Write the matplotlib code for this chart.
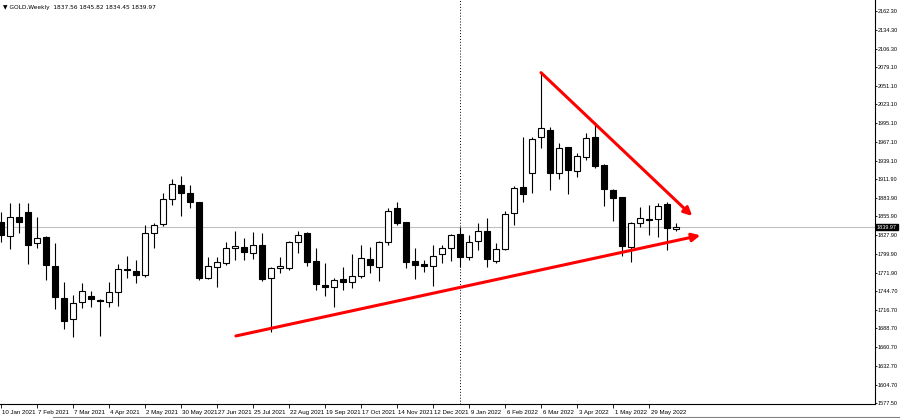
import matplotlib
matplotlib.use("Agg")
import matplotlib.pyplot as plt
import matplotlib.transforms as mtransforms
from matplotlib.lines import Line2D

plt.rcParams['font.family'] = ['Liberation Sans Narrow', 'Liberation Sans', 'DejaVu Sans']

## weekly OHLC, first bar = week of 10 Jan 2021
opens = [1848.0, 1827.1, 1854.5, 1862.9, 1815.7, 1825.6, 1782.3, 1733.7, 1702.4, 1727.7,
         1737.6, 1731.2, 1728.6, 1743.5, 1777.4, 1774.9, 1768.5, 1830.7, 1844.5, 1881.4,
         1902.7, 1891.2, 1876.9, 1763.5, 1780.8, 1786.8, 1808.3, 1810.7, 1801.7, 1813.7,
         1763.5, 1778.5, 1778.5, 1818.1, 1830.7, 1789.3, 1753.5, 1751.0, 1762.0, 1757.6,
         1767.0, 1792.3, 1780.8, 1817.2, 1868.0, 1847.1, 1789.3, 1784.4, 1782.3, 1799.8,
         1808.3, 1829.6, 1794.9, 1819.2, 1834.5, 1789.3, 1806.8, 1860.5, 1900.2, 1920.2,
         1974.8, 1984.8, 1921.1, 1959.0, 1924.0, 1944.9, 1973.9, 1932.6, 1895.3, 1884.4,
         1810.7, 1845.6, 1852.0, 1851.6, 1874.4, 1837.56]
highs = [1862.9, 1875.4, 1875.4, 1875.4, 1854.5, 1827.0, 1815.7, 1758.5, 1738.6, 1756.1,
         1745.0, 1732.5, 1757.6, 1784.4, 1797.3, 1790.8, 1843.0, 1845.6, 1890.3, 1911.7,
         1916.1, 1902.7, 1878.0, 1794.9, 1794.9, 1818.1, 1834.1, 1824.1, 1833.1, 1831.6,
         1780.5, 1794.9, 1819.2, 1834.1, 1832.0, 1808.3, 1786.8, 1763.5, 1780.8, 1799.8,
         1813.2, 1810.7, 1819.0, 1868.0, 1876.9, 1848.0, 1808.3, 1790.8, 1813.2, 1813.2,
         1830.0, 1840.5, 1828.1, 1846.5, 1853.0, 1815.7, 1863.9, 1900.8, 1973.9, 1973.9,
         2070.4, 1989.7, 1964.9, 1960.0, 1950.0, 1980.7, 1997.2, 1934.0, 1896.0, 1885.5,
         1848.0, 1869.5, 1872.9, 1875.4, 1877.8, 1845.82]
lows = [1818.1, 1806.8, 1831.6, 1784.9, 1808.3, 1761.0, 1717.3, 1687.5, 1676.4, 1718.8,
        1721.2, 1677.9, 1721.2, 1722.7, 1763.5, 1756.1, 1765.9, 1808.3, 1841.5, 1872.9,
        1856.5, 1868.9, 1761.0, 1762.0, 1750.1, 1783.4, 1790.8, 1790.8, 1792.3, 1760.0,
        1683.0, 1771.0, 1775.9, 1800.8, 1781.9, 1746.1, 1737.1, 1721.2, 1746.1, 1749.5,
        1763.5, 1771.0, 1759.5, 1813.2, 1843.0, 1778.5, 1762.0, 1773.4, 1752.5, 1785.9,
        1789.3, 1780.8, 1790.8, 1805.8, 1779.9, 1785.9, 1805.8, 1843.0, 1877.8, 1890.3,
        1957.5, 1895.3, 1911.2, 1889.3, 1915.1, 1940.0, 1927.6, 1871.4, 1849.5, 1796.8,
        1788.3, 1840.5, 1828.1, 1824.7, 1805.8, 1834.45]
closes = [1828.1, 1854.5, 1847.1, 1813.2, 1823.2, 1783.4, 1735.6, 1700.3, 1726.2, 1745.0,
          1732.2, 1729.2, 1743.5, 1777.0, 1776.4, 1768.9, 1831.6, 1843.0, 1881.4, 1903.8,
          1890.3, 1876.9, 1763.5, 1781.9, 1787.4, 1808.3, 1812.2, 1802.3, 1813.7, 1762.0,
          1779.3, 1781.4, 1818.1, 1828.1, 1787.4, 1754.6, 1751.0, 1761.0, 1757.6, 1767.4,
          1793.4, 1783.4, 1818.1, 1864.4, 1845.6, 1787.4, 1782.9, 1782.3, 1797.3, 1808.7,
          1828.1, 1795.8, 1818.1, 1834.5, 1792.3, 1806.8, 1859.0, 1897.8, 1889.3, 1970.9,
          1988.2, 1921.1, 1957.5, 1925.1, 1946.4, 1972.4, 1931.1, 1896.3, 1882.9, 1811.7,
          1845.6, 1853.0, 1850.5, 1871.4, 1839.0, 1839.97]

price_ticks = [2162.30, 2134.30, 2106.30, 2079.10, 2051.10, 2023.10, 1995.10, 1967.10,
               1939.10, 1911.90, 1883.90, 1855.90, 1827.90, 1799.90, 1771.90, 1744.70,
               1716.70, 1688.70, 1660.70, 1632.70, 1604.70, 1577.50]
date_pos = [0, 4, 8, 12, 16, 20, 24, 28, 32, 36, 40, 44, 48, 52, 56, 60, 64, 68, 72]
date_labels = ["10 Jan 2021", "7 Feb 2021", "7 Mar 2021", "4 Apr 2021", "2 May 2021",
               "30 May 2021", "27 Jun 2021", "25 Jul 2021", "22 Aug 2021", "19 Sep 2021",
               "17 Oct 2021", "14 Nov 2021", "12 Dec 2021", "9 Jan 2022", "6 Feb 2022",
               "6 Mar 2022", "3 Apr 2022", "1 May 2022", "29 May 2022"]
year_sep = 51
last_price = 1839.97

# trend lines drawn by hand on the chart (bar index, price)
upper_line = [(60.0, 2070.3), (76.8, 1856.5)]
lower_line = [(26.1, 1677.5), (77.7, 1827.6)]

fs = 4.4
fs_y = 4.0

fig = plt.figure(figsize=(9, 4.18), dpi=100)
ax = fig.add_axes([0, 14 / 418, 875 / 900, 1 - 14 / 418])

n = len(opens)
xs = list(range(n))
ax.vlines(xs, lows, highs, color="black", linewidth=0.8, zorder=2)
for i in xs:
    o, c = opens[i], closes[i]
    bottom = min(o, c)
    h = max(abs(c - o), 0.9)
    fc = "white" if c >= o else "black"
    ax.bar(i, h, bottom=bottom, width=0.62, facecolor=fc, edgecolor="black",
           linewidth=0.8, zorder=3)

ax.axhline(last_price, color="#c0c0c0", linewidth=0.8, zorder=1)
ax.axvline(year_sep, color="black", linestyle=(0, (1, 2)), linewidth=0.7, zorder=1)

for line in (upper_line, lower_line):
    ax.annotate("", xy=line[1], xytext=line[0],
                arrowprops=dict(arrowstyle="-|>", color="#ff0000", lw=2.2,
                                mutation_scale=12, shrinkA=0, shrinkB=0),
                zorder=5)

ax.set_xlim(-0.11, 97.11)
ax.set_ylim(1576.0, 2178.7)

for s in ("top", "left"):
    ax.spines[s].set_visible(False)
ax.spines["right"].set_linewidth(0.8)
ax.spines["bottom"].set_linewidth(0.8)

ax.yaxis.tick_right()
ax.set_yticks(price_ticks)
ax.set_yticklabels([f"{p:.2f}" for p in price_ticks])
ax.tick_params(axis="y", direction="out", length=1.5, width=0.6, pad=0.6,
               labelsize=fs_y, colors="black")

ax.set_xticks(date_pos)
ax.set_xticklabels(date_labels)
ax.tick_params(axis="x", direction="out", length=3, width=0.6, pad=1.5,
               labelsize=fs)
offset = mtransforms.ScaledTranslation(1.5 / 100, 0, fig.dpi_scale_trans)
for lab in ax.get_xticklabels():
    lab.set_horizontalalignment("left")
    lab.set_transform(lab.get_transform() + offset)

# current price box
trans = mtransforms.blended_transform_factory(ax.transAxes, ax.transData)
ax.text(1.002, last_price, f"{last_price:.2f}", transform=trans, fontsize=fs_y,
        color="white", va="center", ha="left",
        bbox=dict(boxstyle="square,pad=0.15", facecolor="black", edgecolor="black"),
        zorder=10, clip_on=False)

fig.text(3 / 900, 1 - 7 / 418,
         "\u25bc GOLD,Weekly  1837.56 1845.82 1834.45 1839.97",
         fontsize=4.2, va="center", ha="left",
         family=['Liberation Sans Narrow', 'DejaVu Sans'])

fig.add_artist(Line2D([53 / 900, 1], [1.5 / 418, 1.5 / 418], color="#808080",
                      linewidth=0.8, transform=fig.transFigure))

fig.savefig("out.png", dpi=100)
